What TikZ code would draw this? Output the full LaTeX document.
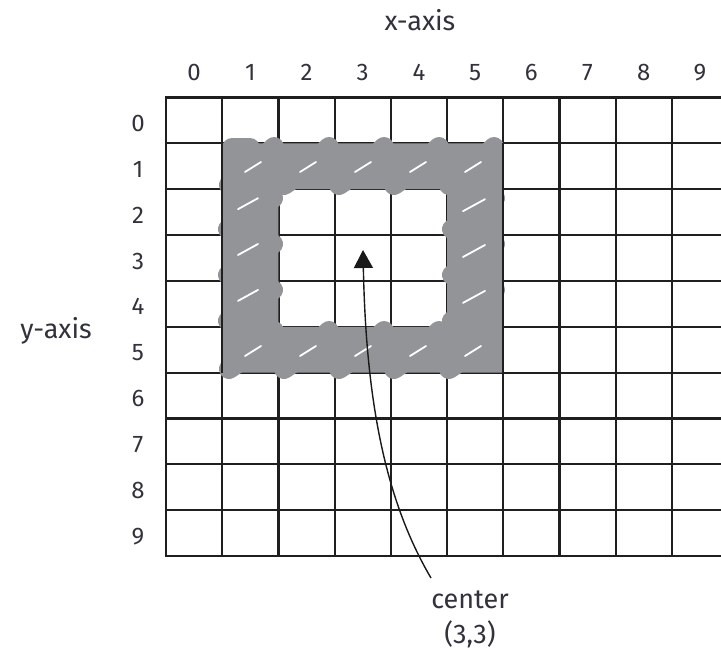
\documentclass[tikz,border=0pt]{standalone}
\usepackage{fontspec}
\setmainfont{Fira Sans}
\usetikzlibrary{arrows.meta}
\definecolor{marker}{RGB}{147,148,152}
\definecolor{ink}{RGB}{50,50,60}
\tikzset{
  gridline/.style={line width=2.2pt, black!88, line cap=rect},
  lbl/.style={text=ink, font=\fontsize{24}{28}\selectfont, inner sep=0pt, anchor=base},
  axislbl/.style={text=ink, font=\fontsize{27}{32}\selectfont, inner sep=0pt, anchor=base},
  mk/.style={draw=marker, line width=20pt, line cap=round, line join=round},
  sliver/.style={white, line width=1.8pt, line cap=round},
}
\begin{document}
\begin{tikzpicture}[x=1pt,y=-1pt]
\useasboundingbox (0,0) rectangle (721,650);
\begin{scope}
\clip (0,0) rectangle (721,650);
% grid
\foreach \i in {0,...,10}
  \draw[gridline] ({166+56.2*\i},97.5) -- ({166+56.2*\i},556);
\foreach \j in {0,...,10}
  \draw[gridline] (166,{97.5+45.85*\j}) -- (730,{97.5+45.85*\j});
% marker ring
\fill[marker, even odd rule] (222.2,143.35) rectangle (503.2,372.6)
      (278.4,189.2) rectangle (447,326.75);
% top and bottom bands
\foreach \x in {229,284,339,394,449} {
  \draw[mk] (\x,185) -- ({\x+12},177) -- ({\x+6},181) -- ({\x+30},163)
            -- ({\x+24},167) -- ({\x+45},147);
  \draw[mk] (\x,369) -- ({\x+12},361) -- ({\x+6},365) -- ({\x+30},347)
            -- ({\x+24},351) -- ({\x+45},331);
}
\draw[mk] (232,148) -- (250,148);
% left and right bands
\foreach \y in {189.2,235,280.9} {
  \draw[mk] (228,{\y+40}) -- (250,{\y+26}) -- (246,{\y+28}) -- (273,{\y+9});
  \draw[mk] (452,{\y+40}) -- (474,{\y+26}) -- (470,{\y+28}) -- (495,{\y+9});
}
% white gaps of the scribble
\foreach \x in {245,300,355,410,465} {
  \draw[sliver] (\x,172) -- ({\x+16},162);
  \draw[sliver] (\x,356) -- ({\x+16},346);
}
\foreach \y in {189.2,235,280.9} {
  \draw[sliver] (238,{\y+20}) -- (258,{\y+9});
  \draw[sliver] (463,{\y+22}) -- (485,{\y+10});
}
\draw[line width=2.2pt, black!88] (222.2,143.35) -- (222.2,372.6);
\draw[line width=2.2pt, black!88] (503.2,143.35) -- (503.2,372.6);
\end{scope}
% labels
\foreach \i in {0,...,9}
  \node[lbl] (xl\i) at ({166+56.2*(\i+0.5)},81) {\i};
\foreach \j in {0,...,9}
  \node[lbl] (yl\j) at (138,{97.5+45.85*\j+34}) {\j};
\node[axislbl] (xaxis) at (420,31) {x-axis};
\node[axislbl] (yaxis) at (56,338) {y-axis};
\node[axislbl] (ctr) at (470,608) {center};
\node[axislbl] (ctrxy) at (470,643) {(3,3)};
% arrow
\coordinate (tail) at (431,578);
\coordinate (tip) at (363,250);
\draw[line width=1.4pt, black!90, -{Triangle[length=18pt,width=19pt]}]
  (tail) .. controls (385,500) and (366,400) .. (tip);
\end{tikzpicture}
\end{document}
